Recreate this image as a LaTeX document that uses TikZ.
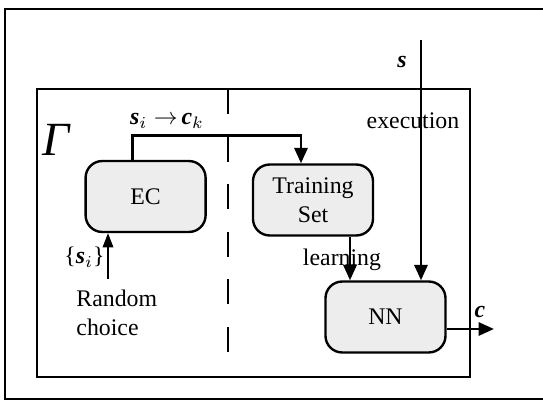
\documentclass[tikz,border=0pt]{standalone}
\usepackage{fontspec}
\setmainfont{Liberation Serif}
\usetikzlibrary{arrows.meta,calc,positioning}

\tikzset{
  blk/.style={draw, line width=1pt, rounded corners=7pt, fill=black!7,
    minimum width=50.4pt, minimum height=29.8pt, inner sep=0pt, align=center},
  arr/.style={line width=1.2pt, -{Triangle[length=6.5pt,width=5.5pt]}},
  thinarr/.style={line width=0.5pt, -{Triangle[length=6pt,width=4.5pt]}},
  lbl/.style={inner sep=0pt}
}
\newcommand{\bvec}[1]{\textbf{\textit{#1}}}

\begin{document}
\begin{tikzpicture}[x=0.42pt,y=-0.42pt,font=\fontsize{10}{12}\selectfont]
	\useasboundingbox (0,0) rectangle (543,401);
	% frames
	\draw[line width=1pt] (543,9) -- (5,9) -- (5,399) -- (543,399);
	\draw[line width=1.2pt] (37,89) rectangle (470,377);
	\draw[line width=1pt, dash pattern=on 10.5pt off 9.5pt] (228,89) -- (228,352);

	\node[blk] (EC) at (145.6,196.5) {EC};
	\node[blk] (TS) at (313,200) {Training\\Set};
	\node[blk] (NN) at (385.5,317) {NN};

	\node[lbl] (gamma) at (57,140) {\fontsize{20}{20}\selectfont\textit{Γ}};
	\node[lbl] (map) at (167,121) {\bvec{s}$_i\rightarrow$\,\bvec{c}$_k$};
	\node[lbl] (si) at (84.5,257) {\{\bvec{s}$_i$\}};
	\node[lbl, align=left, anchor=west] (rc) at (76,313) {Random\\choice};
	\node[lbl] (s) at (402,62) {\bvec{s}};
	\node[lbl] (exec) at (413,121) {execution};
	\node[lbl] (learn) at (342,260) {learning};
	\node[lbl] (c) at (480,312) {\bvec{c}};

	\coordinate (sin) at (421,40);
	\coordinate (cout) at (494,329);
	\coordinate (rcin) at (108,279);
	\coordinate (lt) at ($(TS.south)+(37,0)$);

	\draw[arr] ($(EC.north)+(-13,0)$) -- ++(0,-24) -| ($(TS.north)+(-12,0)$);
	\draw[arr] (lt) -- (lt |- NN.north);
	\draw[arr] (sin) -- (sin |- NN.north);
	\draw[arr] (NN.east |- cout) -- (cout);
	\draw[thinarr] (rcin) -- (rcin |- EC.south);
\end{tikzpicture}
\end{document}
